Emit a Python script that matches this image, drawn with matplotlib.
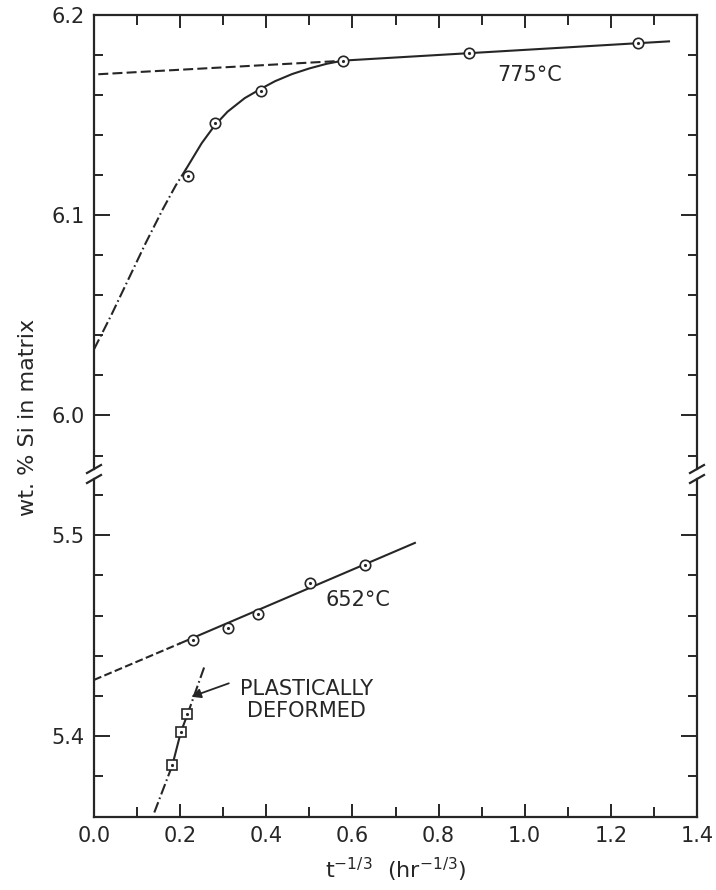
import matplotlib
matplotlib.use("Agg")
import matplotlib.pyplot as plt
from matplotlib.lines import Line2D
from matplotlib.ticker import MultipleLocator, FixedLocator

# --- data ---
# 775 C circles
x775 = [0.219, 0.280, 0.388, 0.578, 0.871, 1.262]
y775 = [6.1196, 6.1457, 6.1617, 6.177, 6.181, 6.1858]
# 775 C fitted curve (solid)
x775_fit = [0.214, 0.25, 0.28, 0.31, 0.35, 0.388, 0.42, 0.46, 0.50, 0.54, 0.578, 1.335]
y775_fit = [6.123, 6.1358, 6.1446, 6.1515, 6.1583, 6.1630, 6.1667, 6.1703, 6.1731, 6.1754, 6.177, 6.1866]
# 775 C extrapolation of the early curve (dash-dot)
x775_dd = [0.0, 0.04, 0.08, 0.12, 0.16, 0.19, 0.214]
y775_dd = [6.033, 6.050, 6.068, 6.086, 6.103, 6.1148, 6.123]
# 775 C extrapolation of the linear part (dashed)
x775_ext = [0.01, 0.56]
y775_ext = [6.1702, 6.1767]

# 652 C circles
x652 = [0.231, 0.311, 0.381, 0.501, 0.630]
y652 = [5.448, 5.454, 5.461, 5.476, 5.485]
x652_fit = [0.20, 0.745]
y652_fit = [5.4462, 5.4962]
x652_ext = [0.0, 0.20]
y652_ext = [5.428, 5.4462]

# plastically deformed squares
xpd = [0.182, 0.2016, 0.217]
ypd = [5.3856, 5.402, 5.4108]
xpd_lo = [0.140, 0.182]
ypd_lo = [5.362, 5.3856]
xpd_hi = [0.217, 0.257]
ypd_hi = [5.4108, 5.435]

xticks = [0.0, 0.2, 0.4, 0.6, 0.8, 1.0, 1.2, 1.4]
xticklabels = ["0.0", "0.2", "0.4", "0.6", "0.8", "1.0", "1.2", "1.4"]

ink = "#262626"
plt.rcParams['font.family'] = ['DejaVu Sans']
plt.rcParams['text.color'] = ink
plt.rcParams['xtick.color'] = ink
plt.rcParams['ytick.color'] = ink

W, H = 716, 890
fig = plt.figure(figsize=(W / 100, H / 100), dpi=100)

def fx(px):
    return px / W

def fy(py):
    return 1 - py / H

left, right = 94, 697
top, brk, bottom = 14.5, 473, 816.5
ax1 = fig.add_axes([fx(left), fy(brk), fx(right) - fx(left), fy(top) - fy(brk)])
ax2 = fig.add_axes([fx(left), fy(bottom), fx(right) - fx(left), fy(brk) - fy(bottom)])

ax1.set_ylim(5.9713, 6.2)
ax2.set_ylim(5.36, 5.531)
for ax in (ax1, ax2):
    ax.set_xlim(0, 1.4)
    ax.xaxis.set_major_locator(FixedLocator(xticks))
    ax.xaxis.set_minor_locator(MultipleLocator(0.1))
    ax.yaxis.set_minor_locator(MultipleLocator(0.02))
    for s in ax.spines.values():
        s.set_linewidth(1.6)
        s.set_color(ink)
    ax.tick_params(which='both', direction='in', width=1.4, left=True, right=True,
                   labelsize=15, pad=7)
    ax.tick_params(axis='y', which='major', length=11.5)
    ax.tick_params(axis='y', which='minor', length=6.5)
    ax.tick_params(axis='x', which='major', length=9.5)
    ax.tick_params(axis='x', which='minor', length=7)

ax1.yaxis.set_major_locator(FixedLocator([6.0, 6.1, 6.2]))
ax1.set_yticklabels(["6.0", "6.1", "6.2"])
ax2.yaxis.set_major_locator(FixedLocator([5.4, 5.5]))
ax2.set_yticklabels(["5.4", "5.5"])

ax1.tick_params(axis='x', which='both', top=True, bottom=False, labelbottom=False)
ax2.tick_params(axis='x', which='both', top=False, bottom=True)
ax2.set_xticklabels(xticklabels)

ax1.spines['bottom'].set_visible(False)
ax2.spines['top'].set_visible(False)
ax1.spines['left'].set_bounds(5.9733, 6.2)
ax1.spines['right'].set_bounds(5.9733, 6.2)
ax2.spines['left'].set_bounds(5.36, 5.5279)
ax2.spines['right'].set_bounds(5.36, 5.5279)

# break marks
for xp in (left, right):
    for yp in (469, 479):
        fig.add_artist(Line2D([fx(xp - 7), fx(xp + 7)], [fy(yp + 4), fy(yp - 4)],
                              color=ink, lw=1.6))

lw = 1.5
dashdot = (5.3, 1.6, 0.8, 1.6)
mk = dict(ls='none', ms=7.5, mfc='white', mec=ink, mew=1.2, zorder=3)
dot = dict(ls='none', marker='.', ms=2.5, color=ink, zorder=4)

# 775 C
ax1.plot(x775_fit, y775_fit, color=ink, lw=lw, solid_joinstyle='round')
ax1.plot(x775_dd, y775_dd, color=ink, lw=lw, dashes=dashdot)
ax1.plot(x775_ext, y775_ext, color=ink, lw=lw, dashes=(4.8, 2.0))
ax1.plot(x775, y775, marker='o', **mk)
ax1.plot(x775, y775, **dot)
ax1.text(0.937, 6.1698, "775\u00b0C", fontsize=15, va='center', ha='left')

# 652 C
ax2.plot(x652_fit, y652_fit, color=ink, lw=lw)
ax2.plot(x652_ext, y652_ext, color=ink, lw=lw, dashes=(3.8, 1.6))
ax2.plot(x652, y652, marker='o', **mk)
ax2.plot(x652, y652, **dot)
ax2.text(0.537, 5.468, "652\u00b0C", fontsize=15, va='center', ha='left')

# plastically deformed
ax2.plot(xpd, ypd, color=ink, lw=lw)
ax2.plot(xpd_lo, ypd_lo, color=ink, lw=lw, dashes=dashdot)
ax2.plot(xpd_hi, ypd_hi, color=ink, lw=lw, dashes=dashdot)
ax2.plot(xpd, ypd, marker='s', **dict(mk, ms=7))
ax2.plot(xpd, ypd, **dot)
ax2.annotate("", xy=(0.226, 5.4196), xytext=(0.313, 5.4263),
             arrowprops=dict(arrowstyle='-|>', color=ink, lw=1.3,
                             mutation_scale=14, shrinkA=0, shrinkB=0))
ax2.text(0.493, 5.4179, "PLASTICALLY\nDEFORMED", fontsize=15, ha='center',
         va='center', multialignment='center', linespacing=1.15)

fig.text(fx(28), fy(417), "wt. % Si in matrix", rotation=90, fontsize=16,
         ha='center', va='center')
fig.text(fx(396), fy(870), r"$\mathregular{t^{-1/3}\ \ (hr^{-1/3})}$", fontsize=16,
         ha='center', va='center')

fig.savefig("out.png", dpi=100, facecolor='white')
